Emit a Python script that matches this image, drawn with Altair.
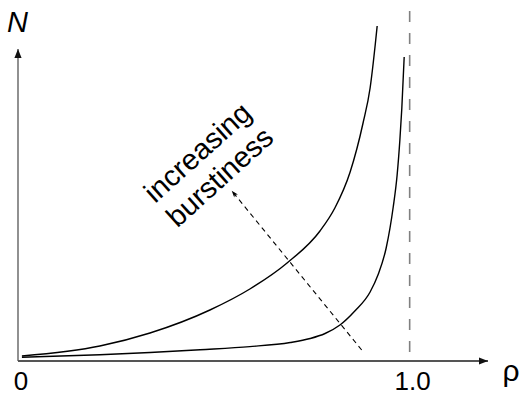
import altair as alt
import pandas as pd

# ---- data ----
upper_rho = [0.010, 0.209, 0.337, 0.490, 0.592, 0.687, 0.771, 0.809, 0.848, 0.881, 0.899, 0.912, 0.917]
upper_N = [0.5, 1.5, 2.8, 5.1, 7.2, 9.8, 13.0, 15.3, 18.9, 23.8, 27.3, 31.6, 33.5]
lower_rho = [0.010, 0.209, 0.337, 0.465, 0.592, 0.695, 0.746, 0.784, 0.822, 0.860, 0.899, 0.919, 0.940, 0.958, 0.968, 0.975, 0.980, 0.986]
lower_N = [0.37, 0.62, 0.85, 1.13, 1.44, 1.85, 2.25, 2.75, 3.6, 5.0, 6.9, 8.6, 11.3, 15.4, 18.6, 22.1, 25.3, 30.4]

x_max = 1.2
y_max = 35.0
y_axis_top = 31.2
capacity = 1.0
tick_values = [0.0, 1.0]
tick_labels = ["0", "1.0"]
arrow_rho = [0.8775, 0.5456]
arrow_N = [1.1, 17.03]
note_rho = [0.460]
note_N = [20.8]
note_text = ["increasing\nburstiness"]

FONT = "Liberation Sans, Arial, Helvetica, sans-serif"

xs = alt.Scale(domain=[0, x_max], nice=False, zero=False)
ys = alt.Scale(domain=[0, y_max], nice=False, zero=False)

curves = pd.DataFrame({
    "rho": upper_rho + lower_rho,
    "N": upper_N + lower_N,
    "series": ["upper"] * len(upper_rho) + ["lower"] * len(lower_rho),
})

lines = alt.Chart(curves).mark_line(color="black", strokeWidth=1.4, interpolate="monotone").encode(
    x=alt.X("rho:Q", scale=xs, axis=None),
    y=alt.Y("N:Q", scale=ys, axis=None),
    detail="series:N",
)

xaxis = alt.Chart(pd.DataFrame({"x": [0.0], "x2": [x_max], "y": [0.0]})).mark_rule(
    color="#555555", strokeWidth=2
).encode(
    x=alt.X("x:Q", scale=xs, axis=None), x2="x2:Q",
    y=alt.Y("y:Q", scale=ys, axis=None),
)
yaxis = alt.Chart(pd.DataFrame({"x": [0.0], "y": [0.0], "y2": [y_axis_top]})).mark_rule(
    color="#555555", strokeWidth=1.3
).encode(
    x=alt.X("x:Q", scale=xs, axis=None),
    y=alt.Y("y:Q", scale=ys, axis=None), y2="y2:Q",
)

head_x = alt.Chart(pd.DataFrame({"x": [x_max], "y": [0.0]})).mark_point(
    shape="M0,0L-2,-0.8L-2,0.8Z", filled=True, size=81, color="#111111", opacity=1
).encode(x=alt.X("x:Q", scale=xs, axis=None), y=alt.Y("y:Q", scale=ys, axis=None))

head_y = alt.Chart(pd.DataFrame({"x": [0.0], "y": [y_axis_top]})).mark_point(
    shape="M0,0L-0.8,2L0.8,2Z", filled=True, size=81, color="#111111", opacity=1
).encode(x=alt.X("x:Q", scale=xs, axis=None), y=alt.Y("y:Q", scale=ys, axis=None))

cap_df = pd.DataFrame({"x": [capacity], "y": [y_max], "y2": [0.0]})
cap = alt.Chart(cap_df).mark_rule(color="#808080", strokeWidth=1.6, strokeDash=[11, 11]).encode(
    x=alt.X("x:Q", scale=xs, axis=None),
    y=alt.Y("y:Q", scale=ys, axis=None), y2="y2:Q",
)

arrow_df = pd.DataFrame({"rho": arrow_rho, "N": arrow_N, "o": [0, 1]})
arrow = alt.Chart(arrow_df).mark_line(color="black", strokeWidth=1.1, strokeDash=[5, 4]).encode(
    x=alt.X("rho:Q", scale=xs, axis=None),
    y=alt.Y("N:Q", scale=ys, axis=None),
    order="o:Q",
)
arrow_head = alt.Chart(pd.DataFrame({"rho": [arrow_rho[1]], "N": [arrow_N[1]]})).mark_point(
    shape="M0,0L-0.75,2.2L0,1.6L0.75,2.2Z", filled=True, size=40, color="black", opacity=1, angle=321
).encode(x=alt.X("rho:Q", scale=xs, axis=None), y=alt.Y("N:Q", scale=ys, axis=None))

ticks_df = pd.DataFrame({"x": tick_values, "y": [0.0, 0.0], "label": tick_labels})
ticks = alt.Chart(ticks_df).mark_text(
    font=FONT, fontSize=26, align="center", baseline="alphabetic", dy=28.5, dx=3, color="black"
).encode(x=alt.X("x:Q", scale=xs, axis=None), y=alt.Y("y:Q", scale=ys, axis=None), text="label:N")

rho_lab = alt.Chart(pd.DataFrame({"x": [x_max], "y": [0.0], "t": ["ρ"]})).mark_text(
    font=FONT, fontSize=30, align="center", baseline="alphabetic", dx=23, dy=20, color="black"
).encode(x=alt.X("x:Q", scale=xs, axis=None), y=alt.Y("y:Q", scale=ys, axis=None), text="t:N")

n_lab = alt.Chart(pd.DataFrame({"x": [0.0], "y": [y_max], "t": ["N"]})).mark_text(
    font=FONT, fontSize=29, fontStyle="italic", align="center", baseline="alphabetic", dx=-0.5, dy=21.3, color="black"
).encode(x=alt.X("x:Q", scale=xs, axis=None), y=alt.Y("y:Q", scale=ys, axis=None), text="t:N")

note = alt.Chart(pd.DataFrame({"x": note_rho, "y": note_N, "t": note_text})).mark_text(
    font=FONT, fontSize=29, align="center", baseline="middle", angle=318, lineBreak="\n",
    lineHeight=33, color="black"
).encode(x=alt.X("x:Q", scale=xs, axis=None), y=alt.Y("y:Q", scale=ys, axis=None), text="t:N")

chart = alt.layer(cap, xaxis, yaxis, lines, arrow, arrow_head, head_x, head_y, ticks, rho_lab, n_lab, note).properties(
    width=470, height=350, autosize="none",
    padding={"left": 18, "top": 11, "right": 31, "bottom": 34},
    background="white",
).configure_view(strokeWidth=0)

chart.save("out.html", embed_options={"renderer": "svg", "actions": False})
